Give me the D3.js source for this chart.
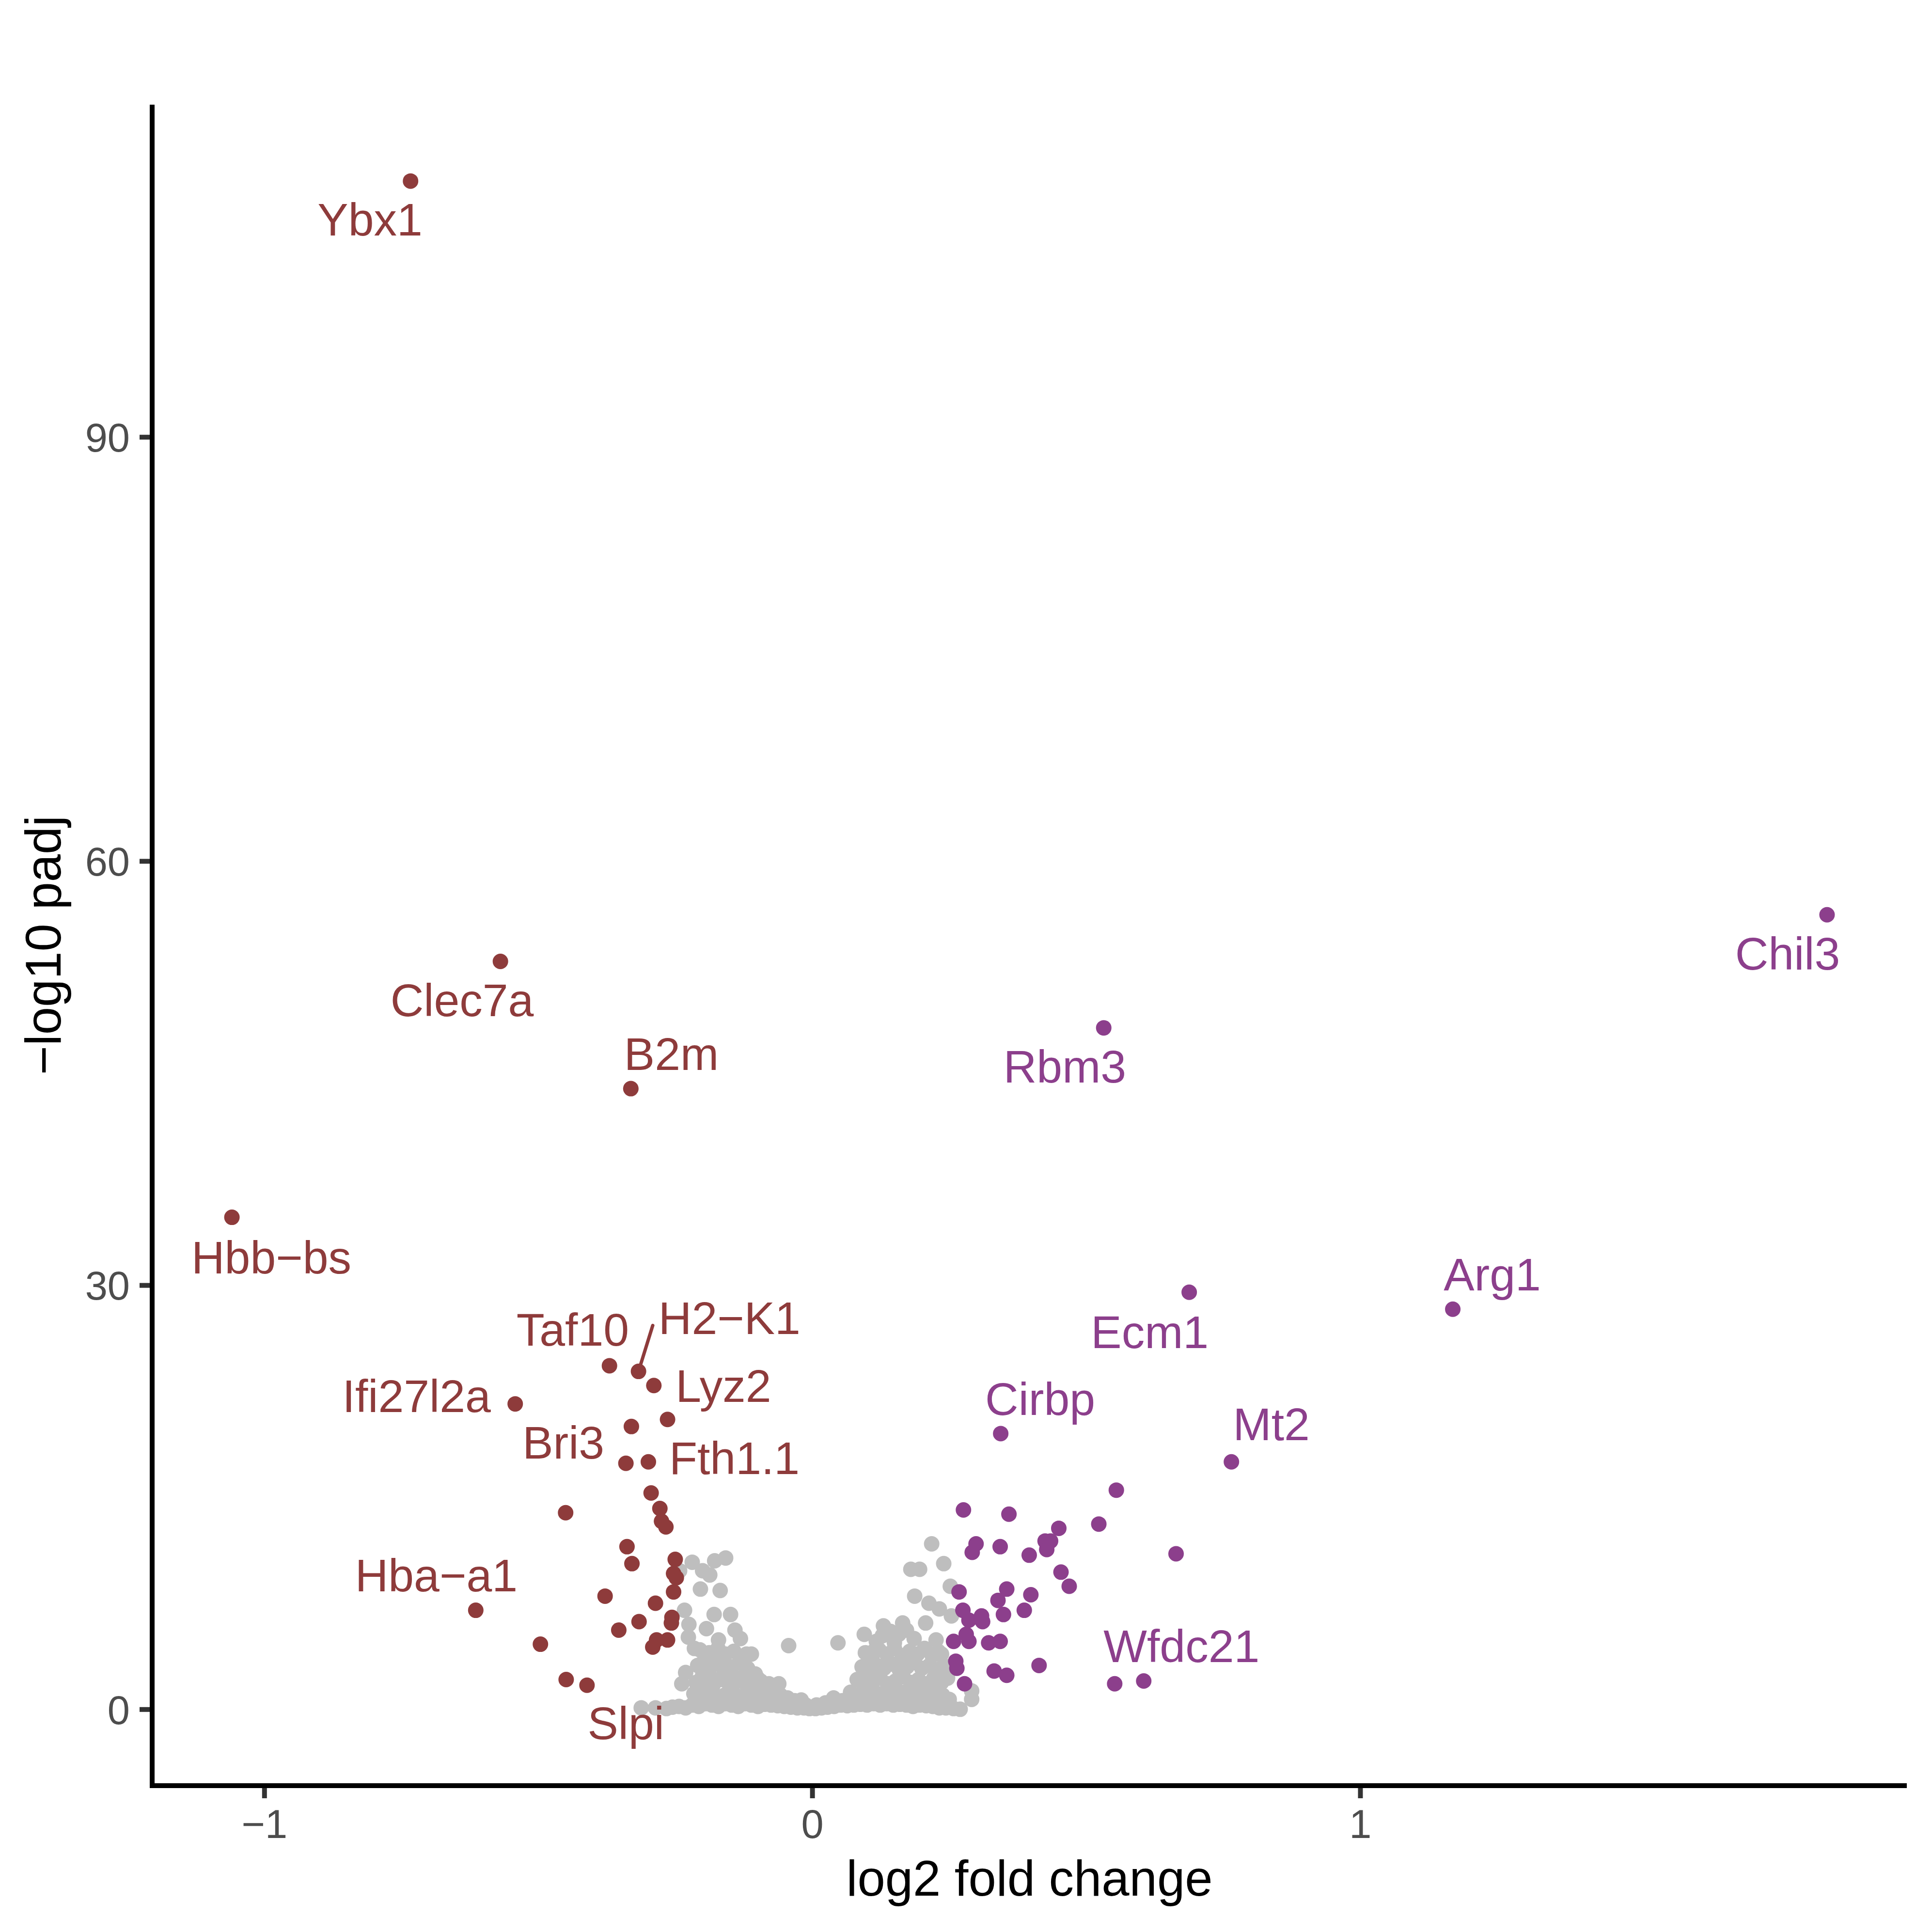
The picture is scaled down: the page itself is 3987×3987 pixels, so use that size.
<!DOCTYPE html>
<html>
<head>
<meta charset="utf-8">
<script src="https://cdn.jsdelivr.net/npm/d3@7"></script>
<style>
  html, body { margin: 0; padding: 0; background: #ffffff; }
  svg { display: block; }
</style>
</head>
<body>
<script>
// ---------------- DATA ----------------
// Non-significant genes (grey) : [log2FC, -log10 padj]
const nsPoints = [
  // scattered left
  [-0.242,9.8],[-0.219,10.4],[-0.200,9.8],[-0.187,9.5],[-0.178,10.5],[-0.158,10.7],
  [-0.204,8.5],[-0.168,8.4],[-0.233,7.0],[-0.225,6.0],[-0.226,5.1],[-0.215,4.3],
  [-0.193,5.7],[-0.179,6.7],[-0.149,6.7],[-0.141,5.6],[-0.131,5.0],[-0.171,4.9],
  [-0.120,3.9],[-0.231,2.6],[-0.238,1.8],[-0.043,4.5],[-0.061,1.8],[-0.100,2.2],
  [-0.111,3.9],[-0.020,0.65],
  // scattered right
  [0.047,4.7],[0.095,5.3],[0.130,5.9],[0.165,6.1],[0.218,11.7],[0.180,9.9],[0.196,9.9],
  [0.240,10.3],[0.252,8.7],[0.187,8.0],[0.213,7.5],[0.232,7.1],[0.254,6.6],[0.207,6.1],
  [0.226,4.9],[0.291,1.3],[0.291,0.7],[0.256,0.1],[0.247,0.5],[0.231,1.3],[0.236,3.9],
  [0.112,4.1],[0.039,0.8],[0.095,1.6],
  // left dense block
  [-0.205,4.2],[-0.188,4.0],[-0.172,4.3],[-0.158,3.9],[-0.143,4.1],[-0.128,3.7],[-0.196,3.6],[-0.165,3.5],
  [-0.209,3.1],[-0.192,2.9],[-0.176,3.2],[-0.161,2.8],[-0.147,3.0],[-0.133,3.3],[-0.118,2.9],[-0.104,2.5],
  [-0.200,2.4],[-0.183,2.2],
  [-0.212,1.9],[-0.197,1.6],[-0.181,1.7],[-0.168,2.1],[-0.152,1.8],[-0.138,2.2],[-0.124,1.9],[-0.109,1.7],
  [-0.094,2.0],[-0.079,1.8],[-0.065,1.5],[-0.155,2.5],[-0.122,2.5],
  [-0.216,1.1],[-0.203,0.9],[-0.189,1.2],[-0.174,0.8],[-0.160,1.0],[-0.146,1.3],[-0.131,0.9],[-0.117,1.1],
  [-0.102,0.8],[-0.088,1.2],[-0.074,0.9],[-0.058,1.0],[-0.045,0.8],[-0.032,0.6],
  // bottom row
  [-0.312,0.1],[-0.286,0.1],[-0.266,0.05],[-0.255,0.15],[-0.243,0.2],[-0.231,0.1],[-0.219,0.3],[-0.207,0.2],
  [-0.195,0.4],[-0.183,0.3],[-0.171,0.2],[-0.159,0.4],[-0.147,0.3],[-0.135,0.2],[-0.123,0.4],[-0.111,0.3],
  [-0.099,0.2],[-0.087,0.35],[-0.075,0.3],[-0.063,0.25],[-0.051,0.2],[-0.039,0.15],[-0.027,0.1],[-0.015,0.1],
  [-0.005,0.05],[0.006,0.05],[0.017,0.1],[0.028,0.15],[0.040,0.2],[0.052,0.3],[0.064,0.25],[0.076,0.3],
  [0.088,0.35],[0.100,0.3],[0.112,0.4],[0.124,0.3],[0.136,0.4],[0.148,0.3],[0.160,0.35],[0.172,0.3],
  [0.184,0.2],[0.196,0.3],[0.208,0.25],[0.220,0.2],[0.232,0.1],[0.244,0.1],[0.258,0.05],[0.270,0.0],
  // centre
  [-0.030,0.4],[-0.012,0.3],[0.008,0.3],[0.024,0.45],[0.055,0.6],[0.068,0.55],[-0.050,0.55],
  // right dense block
  [0.128,5.2],[0.143,5.5],[0.158,5.3],[0.172,5.6],[0.186,5.0],[0.117,4.8],[0.150,4.7],
  [0.097,4.0],[0.109,3.6],[0.122,4.2],[0.136,3.9],[0.150,4.3],[0.164,3.8],[0.178,4.1],[0.192,3.9],
  [0.205,4.3],[0.219,3.8],[0.230,4.1],
  [0.091,3.0],[0.104,2.7],[0.118,3.1],[0.131,2.9],[0.145,3.2],[0.159,2.8],[0.173,3.0],[0.187,3.3],
  [0.200,2.9],[0.214,3.1],[0.228,2.8],[0.240,3.1],
  [0.082,2.1],[0.096,2.3],[0.110,1.9],[0.124,2.2],[0.138,1.8],[0.152,2.0],[0.166,2.3],[0.180,1.9],
  [0.194,2.1],[0.208,1.8],[0.222,2.2],[0.236,1.9],[0.247,2.2],
  [0.070,1.2],[0.084,1.0],[0.098,1.3],[0.112,0.9],[0.126,1.1],[0.140,1.4],[0.154,1.0],[0.168,1.2],
  [0.182,0.9],[0.196,1.1],[0.210,1.3],[0.224,0.9],[0.238,1.0],[0.250,0.7]
];

// Down-regulated genes (red)
const downGenes = ["Ybx1","Clec7a","B2m","Hbb−bs","Taf10","H2−K1","Lyz2","Ifi27l2a","","","Bri3","Fth1.1",
  "","","","","","","","","","","","","","","","","","","","","","","Slpi","Hba−a1"];
const downFC = [-0.733,-0.569,-0.331,-1.059,-0.370,-0.317,-0.289,-0.542,-0.264,-0.330,-0.340,-0.299,
  -0.294,-0.450,-0.278,-0.275,-0.267,-0.338,-0.329,-0.250,-0.253,-0.248,-0.253,-0.378,-0.286,-0.256,
  -0.257,-0.316,-0.353,-0.284,-0.264,-0.291,-0.496,-0.449,-0.411,-0.614];
const downP = [108.1,52.9,43.9,34.8,24.3,23.9,22.9,21.6,20.5,20.0,17.4,17.5,
  15.3,13.9,14.2,13.3,12.9,11.5,10.3,10.6,9.6,9.3,8.3,8.0,7.5,6.5,
  6.1,6.2,5.6,4.9,4.9,4.4,4.6,2.1,1.7,7.0];

// Up-regulated genes (purple)
const upGenes = ["Chil3","Rbm3","Ecm1","Arg1","Cirbp","Mt2"];
const upFC = [1.852,0.532,0.688,1.169,0.344,0.765,
  0.555,0.276,0.359,0.523,0.450,0.664,0.299,0.292,0.343,0.396,0.425,0.435,0.428,0.454,0.469,
  0.268,0.355,0.339,0.399,0.387,0.349,0.275,0.286,0.309,0.311,0.258,0.281,0.286,0.322,0.343,
  0.262,0.264,0.332,0.355,0.414,0.278,0.552,0.605];
const upP = [56.2,48.2,29.5,28.3,19.5,17.5,
  15.5,14.1,13.8,13.1,12.8,11.0,11.7,11.1,11.5,10.9,11.9,11.9,11.3,9.7,8.7,
  8.3,8.5,7.7,8.1,7.0,6.7,7.0,6.3,6.6,6.2,4.8,5.3,4.8,4.7,4.8,
  3.4,2.9,2.7,2.4,3.1,1.8,1.8,2.0];

// Repelled label positions (data units, centre of text)
const labelText  = ["Ybx1","Clec7a","B2m","Hbb−bs","Taf10","H2−K1","Lyz2","Ifi27l2a","Bri3","Fth1.1","Hba−a1","Slpi",
                    "Chil3","Rbm3","Ecm1","Arg1","Cirbp","Mt2","Wfdc21"];
const labelGroup = ["down","down","down","down","down","down","down","down","down","down","down","down",
                    "up","up","up","up","up","up","up"];
const labelX = [-0.807,-0.639,-0.257,-0.987,-0.437,-0.151,-0.162,-0.722,-0.454,-0.142,-0.686,-0.340,
                1.780,0.461,0.616,1.241,0.416,0.838,0.674];
const labelY = [105.4,50.2,46.4,32.0,26.9,27.7,22.9,22.2,18.9,17.8,9.5,-0.95,
                53.5,45.5,26.7,30.8,22.0,20.2,4.5];
// label connector (H2-K1)
const segFrom = [-0.317,23.9];
const segTo   = [-0.291,27.15];

const xTicks = [-1, 0, 1];
const yTicks = [0, 30, 60, 90];
const xTitle = "log2 fold change";
const yTitle = "−log10 padj";

// ---------------- STYLE ----------------
const W = 3987, H = 3987;
const panel = {left: 314, right: 3935, top: 216, bottom: 3685};
const colNS = "#BEBEBE", colDown = "#8E3B3B", colUp = "#8C3F8C";
const ptR = 16;
const font = "'Liberation Sans', Arial, Helvetica, sans-serif";

const allX = nsPoints.map(d => d[0]).concat(downFC, upFC);
const allY = nsPoints.map(d => d[1]).concat(downP, upP);
const [x0, x1] = d3.extent(allX), [y0, y1] = d3.extent(allY);
const xe = (x1 - x0) * 0.05, ye = (y1 - y0) * 0.05;

const x = d3.scaleLinear().domain([x0 - xe, x1 + xe]).range([panel.left, panel.right]);
const y = d3.scaleLinear().domain([y0 - ye, y1 + ye]).range([panel.bottom, panel.top]);

const svg = d3.select("body").append("svg").attr("width", W).attr("height", H);
svg.append("rect").attr("width", W).attr("height", H).attr("fill", "#ffffff");

// points
const g = svg.append("g");
g.selectAll("circle.ns").data(nsPoints).join("circle").attr("class","ns")
  .attr("cx", d => x(d[0])).attr("cy", d => y(d[1])).attr("r", ptR).attr("fill", colNS);
g.selectAll("circle.down").data(downFC.map((v,i) => [v, downP[i]])).join("circle").attr("class","down")
  .attr("cx", d => x(d[0])).attr("cy", d => y(d[1])).attr("r", ptR).attr("fill", colDown);
g.selectAll("circle.up").data(upFC.map((v,i) => [v, upP[i]])).join("circle").attr("class","up")
  .attr("cx", d => x(d[0])).attr("cy", d => y(d[1])).attr("r", ptR).attr("fill", colUp);

// connector
svg.append("line")
  .attr("x1", x(segFrom[0])).attr("y1", y(segFrom[1]))
  .attr("x2", x(segTo[0])).attr("y2", y(segTo[1]))
  .attr("stroke", colDown).attr("stroke-width", 7).attr("stroke-linecap", "round");

// labels
const labFS = 95;
svg.append("g").selectAll("text").data(labelText).join("text")
  .attr("x", (d,i) => x(labelX[i]))
  .attr("y", (d,i) => y(labelY[i]) + 0.358 * labFS)
  .attr("text-anchor", "middle")
  .attr("font-family", font).attr("font-size", labFS)
  .attr("fill", (d,i) => labelGroup[i] === "down" ? colDown : colUp)
  .text(d => d);

// axes
const lw = 10;
const tickFS = 83;
const xAxis = d3.axisBottom(x).tickValues(xTicks).tickSize(26).tickPadding(20)
  .tickFormat(d => d < 0 ? "−" + Math.abs(d) : String(d));
const yAxis = d3.axisLeft(y).tickValues(yTicks).tickSize(26).tickPadding(20);

const gx = svg.append("g").attr("transform", `translate(0,${panel.bottom})`).call(xAxis);
const gy = svg.append("g").attr("transform", `translate(${panel.left},0)`).call(yAxis);
[gx, gy].forEach(a => {
  a.select(".domain").remove();
  a.selectAll(".tick line").attr("stroke", "#333333").attr("stroke-width", lw);
  a.selectAll(".tick text").attr("font-family", font).attr("font-size", tickFS).attr("fill", "#4D4D4D");
});
gx.selectAll(".tick text").attr("dy", null).attr("y", 108);
gy.selectAll(".tick text").attr("dy", "0.358em");

// axis lines
svg.append("line").attr("x1", panel.left).attr("x2", panel.left)
  .attr("y1", panel.top).attr("y2", panel.bottom + lw/2)
  .attr("stroke", "#000").attr("stroke-width", lw);
svg.append("line").attr("x1", panel.left - lw/2).attr("x2", panel.right)
  .attr("y1", panel.bottom).attr("y2", panel.bottom)
  .attr("stroke", "#000").attr("stroke-width", lw);

// titles
svg.append("text").attr("x", (panel.left + panel.right) / 2).attr("y", 3912)
  .attr("text-anchor", "middle").attr("font-family", font).attr("font-size", 103)
  .attr("fill", "#000").text(xTitle);
svg.append("text")
  .attr("transform", `translate(125,${(panel.top + panel.bottom) / 2}) rotate(-90)`)
  .attr("text-anchor", "middle").attr("font-family", font).attr("font-size", 103)
  .attr("fill", "#000").text(yTitle);
</script>
</body>
</html>
